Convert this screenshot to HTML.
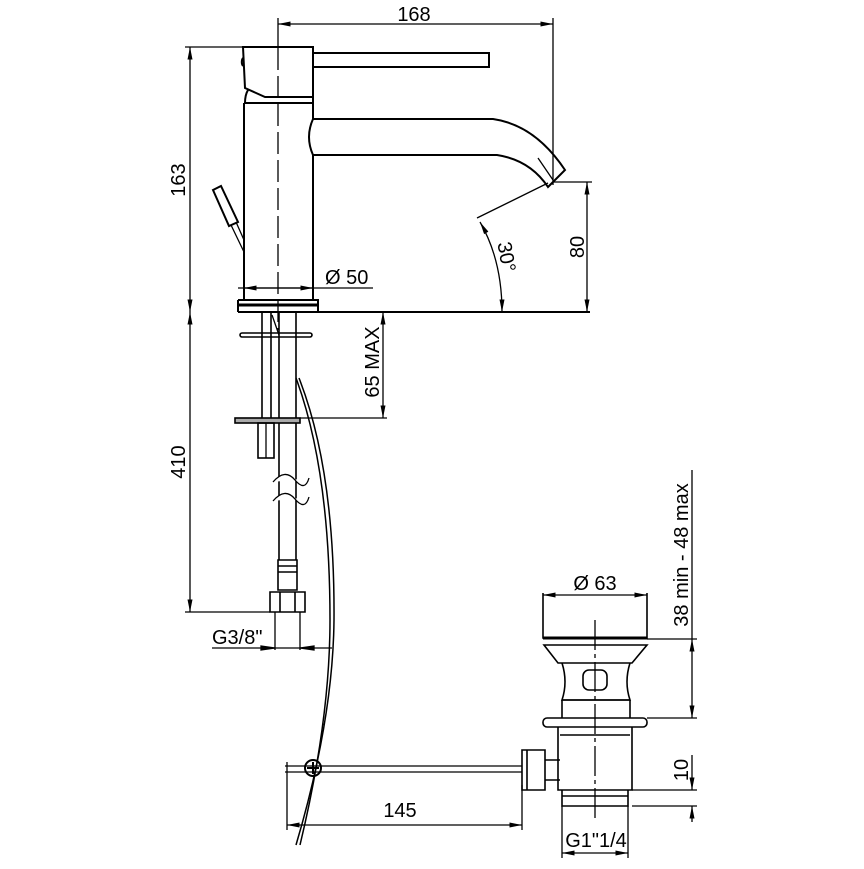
<!DOCTYPE html>
<html><head><style>
html,body{margin:0;padding:0;background:#fff}
svg text{font-family:"Liberation Sans Narrow","Liberation Sans",sans-serif;font-size:20px;fill:#000}
</style></head><body>
<svg width="864" height="864" viewBox="0 0 864 864" xmlns="http://www.w3.org/2000/svg">
<defs>
<marker id="a" viewBox="0 0 10 4" refX="10" refY="2" markerWidth="14" markerHeight="5" orient="auto-start-reverse" markerUnits="userSpaceOnUse"><path d="M0,0L10,2L0,4z" fill="#000"/></marker>
</defs>
<g fill="none" stroke="#000" stroke-width="1.3">
<line x1="278" y1="24" x2="553" y2="24" marker-start="url(#a)" marker-end="url(#a)"/>
<line x1="278" y1="18" x2="278" y2="48"/>
<line x1="553" y1="18" x2="553" y2="185"/>
<line x1="278" y1="48" x2="278" y2="330" stroke-dasharray="22,6"/>
<line x1="190" y1="47" x2="190" y2="312" marker-start="url(#a)" marker-end="url(#a)"/>
<line x1="185" y1="47" x2="243" y2="47"/>
<path d="M243,47H313V97H265L245,88Z" stroke-width="2"/>
<path d="M243,58a3,5 0 0,0 0,8" stroke-width="2"/>
<path d="M313,53H489V67H313" stroke-width="2"/>
<path d="M248,90Q245,95 245,103 M313,97V103" stroke-width="2"/>
<path d="M244,103H313V119 M244,103V300 M313,155V300" stroke-width="2"/>
<path d="M313,119H493Q535,125 565,170 L548,187 Q530,160 497,155H313" stroke-width="2"/>
<path d="M313,119Q305,137 313,155" stroke-width="2"/>
<path d="M538,158L553,180" />
<path d="M477,218L548,183"/>
<path d="M480,222Q502,260 502,312" marker-start="url(#a)" marker-end="url(#a)"/>
<line x1="587" y1="182" x2="587" y2="312" marker-start="url(#a)" marker-end="url(#a)"/>
<line x1="553" y1="182" x2="592" y2="182"/>
<path d="M213,190L221,186L238,222L229,226Z" stroke-width="2"/>
<path d="M231,225L244,252 M236,222L244,240"/>
<path d="M238,300H318V312 M238,300V312" stroke-width="2"/>
<line x1="238" y1="305" x2="318" y2="305" stroke-width="3"/>
<line x1="238" y1="288" x2="373" y2="288" />
<line x1="244" y1="288" x2="313" y2="288" marker-start="url(#a)" marker-end="url(#a)"/>
<line x1="238" y1="312" x2="590" y2="312" stroke-width="2"/>
<path d="M262,312V418 M271,312V418 M279,312V560 M296,312V560" stroke-width="1.6"/>
<path d="M272,315L279,335" />
<rect x="240" y="333" width="72" height="4" rx="2" stroke-width="1.6"/>
<rect x="235" y="418" width="65" height="5" stroke-width="1.6" fill="#aaa"/>
<rect x="258" y="423" width="16" height="35" stroke-width="1.6"/>
<line x1="266" y1="423" x2="266" y2="458"/>
<line x1="300" y1="418" x2="387" y2="418"/>
<line x1="383" y1="312" x2="383" y2="418" marker-start="url(#a)" marker-end="url(#a)"/>
<path d="M273,482Q285,468 295,480T309,478 M273,501Q285,487 295,499T309,497" fill="#fff"/>
<path d="M278,560H297V590H278Z M278,566H297 M278,572H297" stroke-width="1.6"/>
<path d="M270,592H305V612H270Z M280,592V612 M295,592V612" stroke-width="1.6"/>
<line x1="185" y1="612" x2="270" y2="612"/>
<line x1="190" y1="312" x2="190" y2="612" marker-start="url(#a)" marker-end="url(#a)"/>
<path d="M275,612V650 M300,612V650"/>
<line x1="212" y1="648" x2="332" y2="648"/>
<path d="M275,648l-14,-2v4z M300,648l14,-2v4z" fill="#000"/>
<path d="M296,378Q330,470 330,620Q330,720 300,845" stroke-width="1.5"/>
<path d="M299,378Q335,470 334,620Q333,720 296,845" stroke-width="1.5"/>
<path d="M285,766H522 M285,772H522 M287,762V830"/>
<circle cx="313" cy="768" r="8" stroke-width="2"/>
<path d="M307,768H319 M313,762V774" stroke-width="2"/>
<line x1="287" y1="825" x2="522" y2="825" marker-start="url(#a)" marker-end="url(#a)"/>
<line x1="522" y1="785" x2="522" y2="830"/>
<path d="M543,593V638H647V593" stroke-width="1.6"/>
<line x1="543" y1="638" x2="647" y2="638" stroke-width="3"/>
<line x1="543" y1="595" x2="647" y2="595" marker-start="url(#a)" marker-end="url(#a)"/>
<path d="M544,645H647L632,663H558Z" stroke-width="1.6"/>
<path d="M562,663Q568,682 562,700H630Q624,682 630,663" stroke-width="1.6"/>
<rect x="583" y="670" width="24" height="20" rx="6" stroke-width="1.6"/>
<path d="M562,700V718 M630,700V718 M562,700H630" stroke-width="1.6"/>
<rect x="543" y="718" width="104" height="9" rx="4" stroke-width="1.6"/>
<path d="M558,727V790H632V727 M560,735H630" stroke-width="1.6"/>
<path d="M562,790V806H628V790 M562,796H628" stroke-width="1.6"/>
<path d="M522,750H545V790H522Z M527,750V790 M545,760H560 M545,780H560" stroke-width="1.6"/>
<line x1="595" y1="620" x2="595" y2="822" stroke-dasharray="30,4,4,4"/>
<path d="M562,806V858 M628,806V858"/>
<line x1="562" y1="853" x2="628" y2="853" marker-start="url(#a)" marker-end="url(#a)"/>
<line x1="647" y1="639" x2="697" y2="639"/>
<line x1="647" y1="718" x2="697" y2="718"/>
<line x1="692" y1="639" x2="692" y2="718" marker-start="url(#a)" marker-end="url(#a)"/>
<line x1="692" y1="470" x2="692" y2="639"/>
<line x1="632" y1="790" x2="697" y2="790"/>
<line x1="632" y1="806" x2="697" y2="806"/>
<line x1="692" y1="755" x2="692" y2="790" marker-end="url(#a)"/>
<line x1="692" y1="822" x2="692" y2="806" marker-end="url(#a)"/>
</g>
<text x="414" y="21" text-anchor="middle">168</text>
<text x="325" y="284">Ø 50</text>
<text transform="translate(185,180) rotate(-90)" text-anchor="middle">163</text>
<text transform="translate(584,247) rotate(-90)" text-anchor="middle">80</text>
<text transform="translate(500,258) rotate(80)" text-anchor="middle">30°</text>
<text transform="translate(379,362) rotate(-90)" text-anchor="middle">65  MAX</text>
<text transform="translate(185,462) rotate(-90)" text-anchor="middle">410</text>
<text x="212" y="644">G3/8"</text>
<text x="595" y="590" text-anchor="middle">Ø 63</text>
<text x="400" y="817" text-anchor="middle">145</text>
<text x="596" y="847" text-anchor="middle">G1"1/4</text>
<text transform="translate(688,555) rotate(-90)" text-anchor="middle">38  min  -  48  max</text>
<text transform="translate(688,770) rotate(-90)" text-anchor="middle">10</text>
</svg>
</body></html>
